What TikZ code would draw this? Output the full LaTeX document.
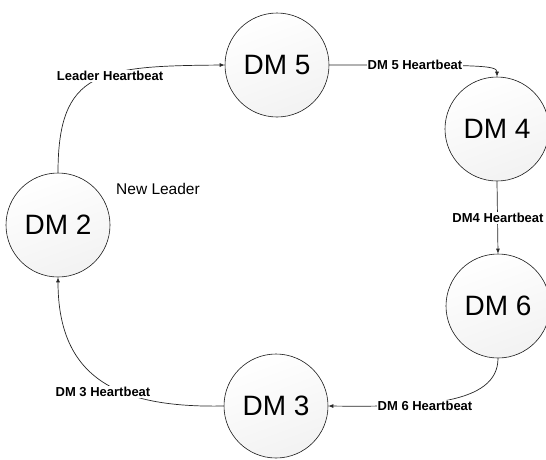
\documentclass[tikz,border=0pt]{standalone}
\usepackage{fontspec}
\setmainfont{Liberation Sans}
\usetikzlibrary{arrows.meta}
\begin{document}
\begin{tikzpicture}[x=1pt,y=-1pt,
  dmnode/.style={circle, draw=black!90, line width=0.6pt, minimum size=104pt, inner sep=0pt,
    top color=white, bottom color=black!5, shading angle=20,
    font=\fontsize{28}{30}\selectfont},
  link/.style={draw=black!85, line width=0.7pt, -{Latex[length=5pt,width=4pt]}},
  hblabel/.style={fill=white, inner sep=1pt, font=\fontsize{13}{15}\selectfont\bfseries},
  note/.style={font=\fontsize{15.5}{17}\selectfont}]
\useasboundingbox (0,0) rectangle (546,459);

% state nodes
\node[dmnode] (dm5) at (277,65) {DM 5};
\node[dmnode] (dm4) at (497,129) {DM 4};
\node[dmnode] (dm6) at (498,306) {DM 6};
\node[dmnode] (dm3) at (276,406) {DM 3};
\node[dmnode] (dm2) at (58,225) {DM 2};

% heartbeat ring
\draw[link] (dm2.north) .. controls (58,70) and (100,66) .. (dm5.west);
\draw[link] (dm5.east) .. controls (480,65) and (497,65) .. (dm4.north);
\draw[link] (dm4.south) -- (dm6.north);
\draw[link] (dm6.south) .. controls (498,405) and (420,407) .. (dm3.east);
\draw[link] (dm3.west) .. controls (120,408) and (58,380) .. (dm2.south);

% connector labels
\node[hblabel] (l25) at (110,76) {Leader Heartbeat};
\node[hblabel] (l54) at (415,65) {DM 5 Heartbeat};
\node[hblabel] (l46) at (498,218) {DM4 Heartbeat};
\node[hblabel] (l63) at (425,406) {DM 6 Heartbeat};
\node[hblabel] (l32) at (103,392) {DM 3 Heartbeat};

\node[note] (lead) at (158,189) {New Leader};
\end{tikzpicture}
\end{document}
